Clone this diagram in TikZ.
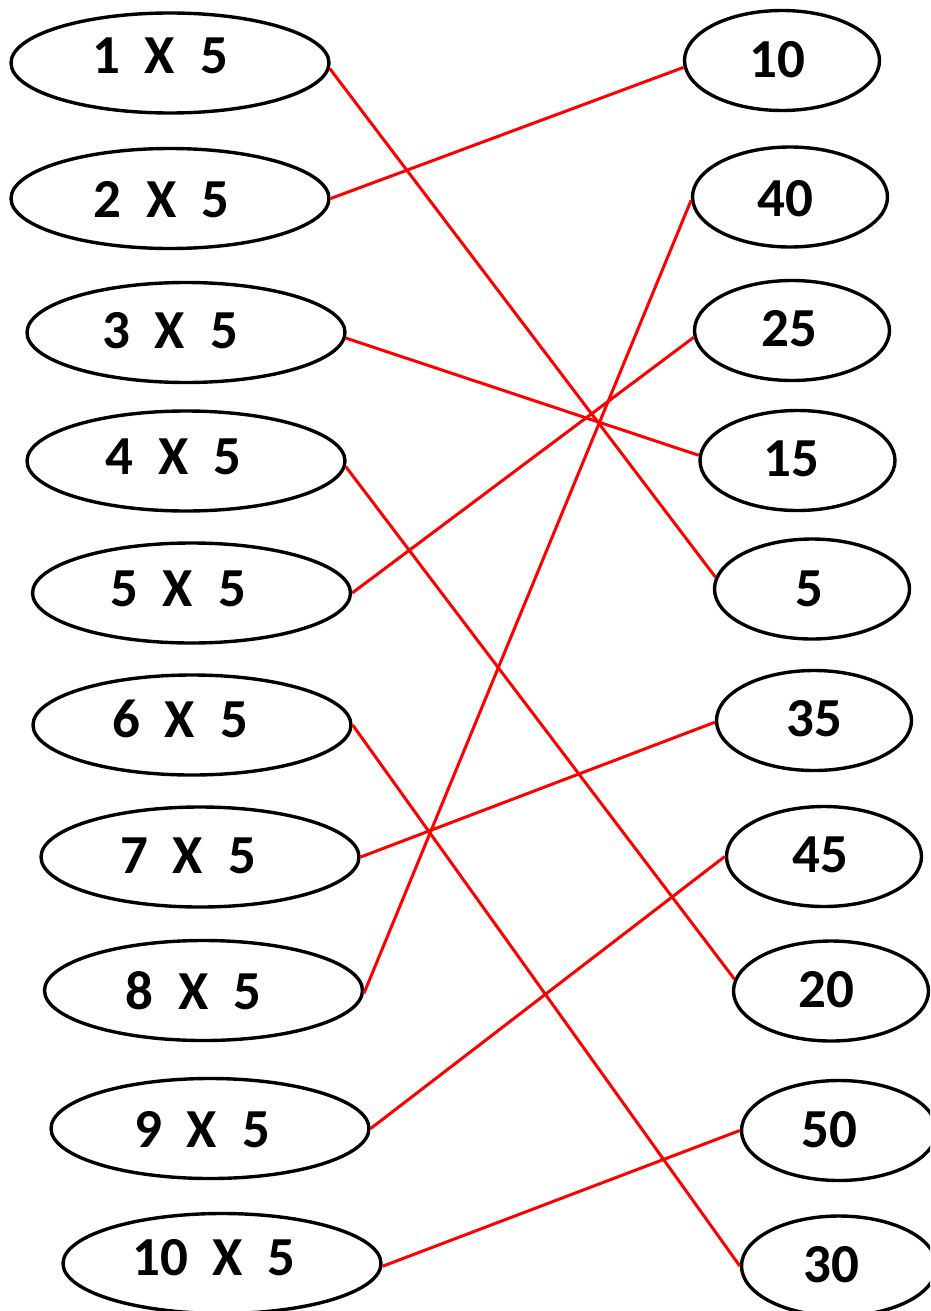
\documentclass[tikz,border=0pt]{standalone}
\usepackage{fontspec}
\setmainfont{Carlito}
\usetikzlibrary{shapes.geometric}
\tikzset{
  lefte/.style={ellipse, draw=black, line width=3.4pt, minimum width=318pt, minimum height=100pt, inner sep=0pt},
  righte/.style={ellipse, draw=black, line width=3.4pt, minimum width=195pt, minimum height=100pt, inner sep=0pt},
  txt/.style={font=\fontsize{55}{60}\selectfont\bfseries, inner sep=0pt, text=black},
  link/.style={draw=red, line width=3pt}
}
\begin{document}
\begin{tikzpicture}[x=1pt,y=-1pt]
\useasboundingbox (0,0) rectangle (930,1311);
\clip (0,0) rectangle (930,1311);
% left ellipses
\node[lefte] (L1) at (170,63) {};
\node[lefte] (L2) at (170,198.5) {};
\node[lefte] (L3) at (186,332.5) {};
\node[lefte] (L4) at (186,461) {};
\node[lefte] (L5) at (191.5,593) {};
\node[lefte] (L6) at (192,725) {};
\node[lefte] (L7) at (200,857) {};
\node[lefte] (L8) at (203.5,990.5) {};
\node[lefte] (L9) at (210,1128.5) {};
\node[lefte] (L10) at (222,1263.5) {};
% right ellipses
\node[righte] (R10) at (782,60.5) {};
\node[righte] (R40) at (790,197) {};
\node[righte] (R25) at (792,330.5) {};
\node[righte] (R15) at (797.5,460.5) {};
\node[righte] (R5) at (812,589) {};
\node[righte] (R35) at (814,720.5) {};
\node[righte] (R45) at (824,856.5) {};
\node[righte] (R20) at (831,991) {};
\node[righte] (R50) at (839,1130.5) {};
\node[righte] (R30) at (839,1266) {};
% left texts
\node[txt] (T1) at (160,55.5) {1~~X~~5};
\node[txt] (T2) at (161.5,200) {2~~X~~5};
\node[txt] (T3) at (170,330.5) {3~~X~~5};
\node[txt] (T4) at (173.5,456.5) {4~~X~~5};
\node[txt] (T5) at (178,589) {5~~X~~5};
\node[txt] (T6) at (180,718.5) {6~~X~~5};
\node[txt] (T7) at (188,856) {7~~X~~5};
\node[txt] (T8) at (193.5,990.5) {8~~X~~5};
\node[txt] (T9) at (202,1129.5) {9~~X~~5};
\node[txt] (T10) at (214,1257.5) {10~~X~~5};
% right texts
\node[txt] (S10) at (777.5,60) {10};
\node[txt] (S40) at (785,198.5) {40};
\node[txt] (S25) at (789,328.5) {25};
\node[txt] (S15) at (791.5,459) {15};
\node[txt] (S5) at (809,588.5) {5};
\node[txt] (S35) at (814.5,719) {35};
\node[txt] (S45) at (820,855) {45};
\node[txt] (S20) at (826.5,989.5) {20};
\node[txt] (S50) at (829.5,1129.5) {50};
\node[txt] (S30) at (831.5,1264.5) {30};
% connectors
\draw[link] (L1.-2) -- (R5.173.5);
\draw[link] (L2.east) -- (R10.184);
\draw[link] (L3.-2) -- (R15.177);
\draw[link] (L4.-2.5) -- (R20.173.5);
\draw[link] (L5.east) -- (R25.184.5);
\draw[link] (L6.east) -- (R30.west);
\draw[link] (L7.east) -- (R35.181);
\draw[link] (L8.-1) -- (R40.182);
\draw[link] (L9.east) -- (R45.west);
\draw[link] (L10.-1) -- (R50.west);
\end{tikzpicture}
\end{document}
